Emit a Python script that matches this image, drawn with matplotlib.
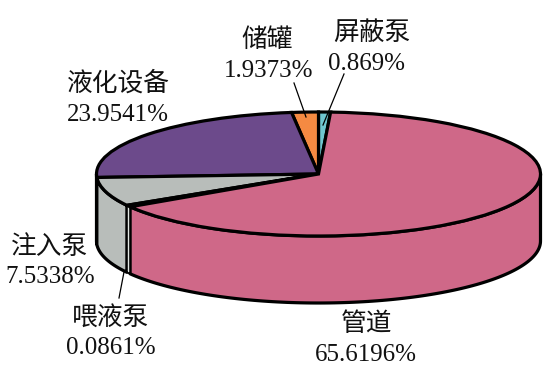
import numpy as np
import matplotlib
matplotlib.use('Agg')
import matplotlib.pyplot as plt
from matplotlib.patches import Wedge, Polygon
from matplotlib.transforms import Affine2D

# data, order: counter clockwise starting at the shield pump
names = ['屏蔽泵', '储罐', '液化设备', '注入泵', '喂液泵', '管道']
values = [0.869, 1.9373, 23.9541, 7.5338, 0.0861, 65.6196]
value_labels = ['0.869%', '1.9373%', '23.9541%', '7.5338%', '0.0861%', '65.6196%']
colors = ['#6FC6CF', '#F58A42', '#6C4A8B', '#B8BDBA', '#E2E6E2', '#CF6888']

W, H = 547, 373
cx, cy = 318.5, H - 174
rx, ry = 222, 62
depth = 67
lw = 2.3
sliver_extra = 1.3  # widen the thin slice a bit, otherwise it vanishes under the lines

name_pos = [(372, 33), (267.5, 40), (118, 84), (50, 247), (111, 318), (367, 324)]
value_pos = [(366.5, 64), (269, 71), (118, 115), (50, 277), (110.5, 348), (366, 355)]
leaders = [((344, 74), (323, 125)), ((294, 83), (306, 117)), ((124, 272), (119, 298))]

fig = plt.figure(figsize=(W / 100, H / 100), dpi=100)
ax = fig.add_axes([0, 0, 1, 1])
ax.set_xlim(0, W)
ax.set_ylim(0, H)
ax.axis('off')

# slice angles
angles = []
a = 90 - values[0] * 3.6
for i, v in enumerate(values):
    span = v * 3.6
    if i == 4:
        span += sliver_extra
    if i == 5:
        span -= sliver_extra
    angles.append((a, a + span))
    a += span

# side wall, only the front half of the ellipse shows
tr = Affine2D().scale(rx, ry).translate(cx, cy) + ax.transData
for i, ((a0, a1), col) in enumerate(zip(angles, colors)):
    for shift in (0, 360):
        s0 = max(a0 + shift, 180)
        s1 = min(a1 + shift, 360)
        if s1 <= s0:
            continue
        t = np.radians(np.linspace(s0, s1, 120))
        xs = cx + rx * np.cos(t)
        ys = cy + ry * np.sin(t)
        top = np.column_stack([xs, ys])
        bot = np.column_stack([xs, ys - depth])[::-1]
        ax.add_patch(Polygon(np.vstack([top, bot]), closed=True, fc=col, ec='black',
                             lw=1.3 if i == 4 else lw, joinstyle='round', zorder=3 if i == 4 else 2))

# top face
for i, ((a0, a1), col) in enumerate(zip(angles, colors)):
    fc = 'black' if i == 4 else col
    ax.add_patch(Wedge((0, 0), 1, a0, a1, fc=fc, ec='black', lw=lw,
                       transform=tr, joinstyle='miter', zorder=4))

for p0, p1 in leaders:
    ax.plot([p0[0], p1[0]], [H - p0[1], H - p1[1]], color='black', lw=0.9, zorder=5)

zh_font = ['Noto Sans CJK SC', 'DejaVu Sans']
for nm, vl, np_, vp in zip(names, value_labels, name_pos, value_pos):
    ax.text(np_[0], H - np_[1], nm, ha='center', va='center', fontsize=18.5,
            family=zh_font, color='#111111')
    ax.text(vp[0], H - vp[1], vl, ha='center', va='center', fontsize=18,
            family='Liberation Serif', color='#111111')

fig.savefig('out.png', dpi=100)
